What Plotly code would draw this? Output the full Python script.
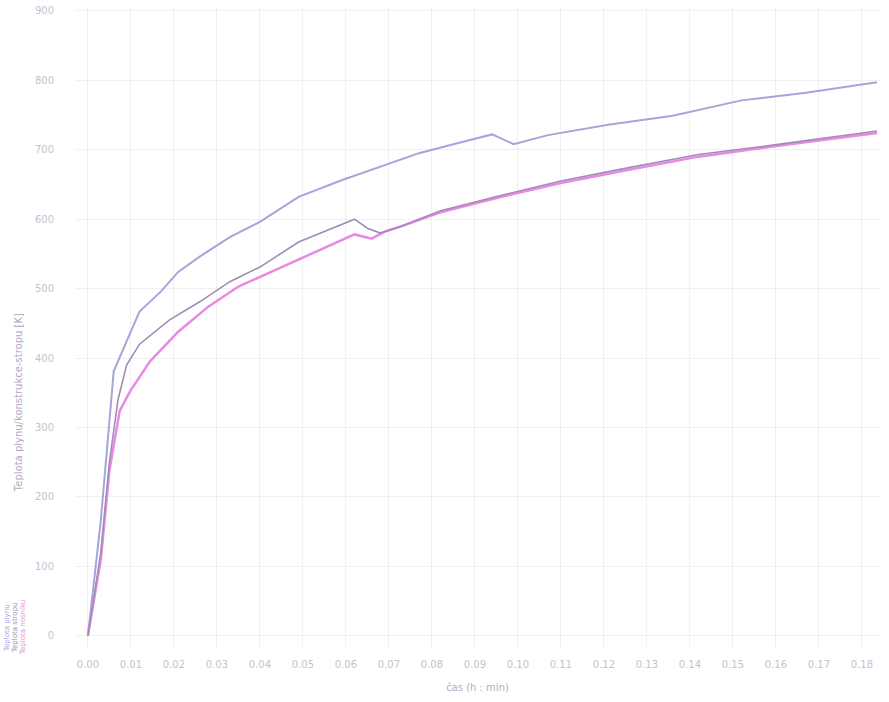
import plotly.graph_objects as go

# time (h : min) values
x_top = [0, 0.003, 0.005, 0.006, 0.009, 0.012, 0.017, 0.021, 0.026, 0.033, 0.040, 0.049,
         0.059, 0.068, 0.077, 0.087, 0.094, 0.099, 0.107, 0.121, 0.136, 0.152, 0.167, 0.1835]
y_top = [0, 166, 309, 381, 424, 467, 496, 524, 546, 574, 596, 632,
         656, 675, 695, 711, 722, 708, 721, 736, 749, 771, 782, 797]

x_mid = [0, 0.003, 0.005, 0.007, 0.009, 0.012, 0.019, 0.026, 0.033, 0.040, 0.049, 0.056,
         0.062, 0.065, 0.068, 0.073, 0.082, 0.096, 0.110, 0.124, 0.142, 0.161, 0.1835]
y_mid = [0, 120, 250, 340, 390, 420, 455, 481, 510, 531, 567, 585,
         600, 587, 580, 590, 612, 634, 655, 672, 693, 708, 727]

x_pink = [0, 0.003, 0.005, 0.0074, 0.0098, 0.0144, 0.021, 0.028, 0.035, 0.045, 0.054, 0.062,
          0.066, 0.069, 0.073, 0.082, 0.096, 0.110, 0.124, 0.142, 0.161, 0.1835]
y_pink = [0, 110, 238, 324, 352, 395, 438, 474, 503, 531, 556, 578,
          572, 582, 590, 610, 632, 652, 669, 690, 706, 724]

tick_vals = [i / 100 for i in range(19)]
tick_text = ["%.2f" % v for v in tick_vals]
y_ticks = [0, 100, 200, 300, 400, 500, 600, 700, 800, 900]

names = ["Teplota plynu", "Teplota stropu", "Teplota nosníku"]
colors = ["#a3a6da", "#a08cb6", "#e98ae2"]

fig = go.Figure()
fig.add_trace(go.Scatter(x=x_top, y=y_top, mode="lines", name=names[0],
                         line=dict(color=colors[0], width=2)))
fig.add_trace(go.Scatter(x=x_pink, y=y_pink, mode="lines", name=names[2],
                         line=dict(color=colors[2], width=2.5)))
fig.add_trace(go.Scatter(x=x_mid, y=y_mid, mode="lines", name=names[1],
                         line=dict(color=colors[1], width=1.6)))

tick_font = dict(family="DejaVu Sans", size=10, color="#c6c2cc")

fig.update_layout(
    width=889, height=702,
    margin=dict(l=75, r=9, t=5, b=55),
    paper_bgcolor="white", plot_bgcolor="white",
    showlegend=False,
    xaxis=dict(range=[-0.003, 0.1842], tickvals=tick_vals, ticktext=tick_text,
               showgrid=True, gridcolor="#f1eff4", gridwidth=1, zeroline=False,
               showline=False, tickfont=tick_font,
               ticks="outside", ticklen=8, tickcolor="rgba(0,0,0,0)",
               title=dict(text="čas (h : min)", font=dict(family="DejaVu Sans", size=10, color="#b9a8c8"),
                          standoff=14)),
    yaxis=dict(range=[-16, 904], tickvals=y_ticks, showgrid=True, gridcolor="#f1eff4",
               zeroline=False, showline=False, tickfont=tick_font,
               ticks="outside", ticklen=18, tickcolor="rgba(0,0,0,0)"),
)

# rotated axis title placed as in the reference
fig.add_annotation(text="Teplota plynu/konstrukce-stropu [K]", xref="paper", yref="paper",
                   x=(18 - 75) / 805, y=(647 - 402) / 642, xanchor="center", yanchor="middle",
                   textangle=-90, showarrow=False,
                   font=dict(family="DejaVu Sans", size=10, color="#b4a6c4"))

# rotated legend entries at the bottom-left
for i, (n, c) in enumerate(zip(names, colors)):
    fig.add_annotation(text=n, xref="paper", yref="paper", x=(7 + i * 8 - 75) / 805,
                       y=(647 - 628) / 642, xanchor="center", yanchor="middle",
                       textangle=-90, showarrow=False,
                       font=dict(family="DejaVu Sans", size=7, color=c))

fig.write_html("out.html", config={"displayModeBar": False},
               post_script="document.body.style.margin='0px';")
